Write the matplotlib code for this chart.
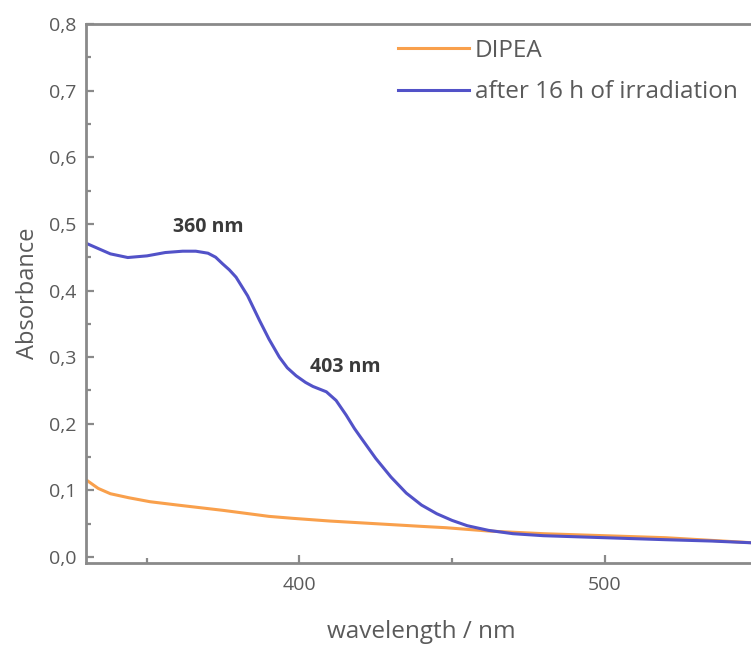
import matplotlib
matplotlib.use("Agg")
from matplotlib import pyplot as plt
from matplotlib.ticker import MultipleLocator, FuncFormatter

# DIPEA absorbance
dipea_wl = [330, 334, 338, 344, 351, 360, 375, 390, 398, 410, 425, 440, 448, 462, 480, 500, 520, 535, 550]
dipea_abs = [0.116, 0.103, 0.095, 0.089, 0.083, 0.078, 0.070, 0.061, 0.058, 0.054, 0.050, 0.046, 0.044, 0.039, 0.035, 0.032, 0.029, 0.025, 0.021]

# after 16 h of irradiation
irr_wl = [330, 334, 338, 343.7, 350, 356, 361.7, 366, 370, 372.5, 374.8, 377, 379.2, 383, 386.9, 390, 393.4,
          396, 398.9, 402, 404.4, 408.8, 412, 415.3, 418, 420, 425, 430, 435, 440, 445, 450, 455, 462, 470,
          480, 500, 520, 535, 550]
irr_abs = [0.471, 0.463, 0.455, 0.4495, 0.452, 0.457, 0.459, 0.459, 0.456, 0.450, 0.440, 0.431, 0.420, 0.392,
           0.355, 0.327, 0.300, 0.284, 0.272, 0.262, 0.256, 0.248, 0.235, 0.213, 0.193, 0.180, 0.148, 0.120,
           0.096, 0.078, 0.065, 0.055, 0.047, 0.040, 0.035, 0.032, 0.029, 0.026, 0.024, 0.021]

peaks = ["360 nm", "403 nm"]
peak_pos = [(370, 0.495), (415, 0.285)]

plt.rcParams['font.family'] = ['Open Sans', 'DejaVu Sans']
grey = '#5a5a5a'
spine_col = '#8a8a8a'

fig = plt.figure(figsize=(7.51, 6.45), dpi=100)
ax = fig.add_axes([0.1145, 0.1271, 0.8935, 0.8357])

ax.plot(dipea_wl, dipea_abs, color='#f9a04c', lw=2.2, label='DIPEA')
ax.plot(irr_wl, irr_abs, color='#5252c8', lw=2.2, label='after 16 h of irradiation')

for txt, (x, y) in zip(peaks, peak_pos):
    ax.text(x, y, txt, fontsize=14, fontweight='bold', color='#3a3a3a', ha='center', va='center')

ax.set_xlim(330, 550)
ax.set_ylim(-0.009, 0.8)
ax.xaxis.set_major_locator(MultipleLocator(100))
ax.xaxis.set_minor_locator(MultipleLocator(50))
ax.yaxis.set_major_locator(MultipleLocator(0.1))
ax.yaxis.set_minor_locator(MultipleLocator(0.05))
ax.yaxis.set_major_formatter(FuncFormatter(lambda v, p: f"{v:.1f}".replace('.', ',')))

for s in ax.spines.values():
    s.set_color(spine_col)
    s.set_linewidth(2)
ax.tick_params(which='both', direction='in', color=spine_col, width=1.6, labelcolor=grey, labelsize=14)
ax.tick_params(which='major', length=6)
ax.tick_params(which='minor', length=3.5)
ax.tick_params(axis='x', pad=9)
ax.tick_params(axis='y', pad=7)

ax.set_xlabel('wavelength / nm', fontsize=17.5, color=grey, labelpad=19)
ax.set_ylabel('Absorbance', fontsize=17, color=grey, labelpad=6)

ax.legend(loc='upper left', bbox_to_anchor=(0.530, 0.940), bbox_transform=fig.transFigure,
          frameon=False, fontsize=17.5, handlelength=2.9, handletextpad=0.25, labelspacing=0.72,
          borderpad=0, borderaxespad=0, labelcolor=grey)

fig.savefig('out.png', dpi=100)
